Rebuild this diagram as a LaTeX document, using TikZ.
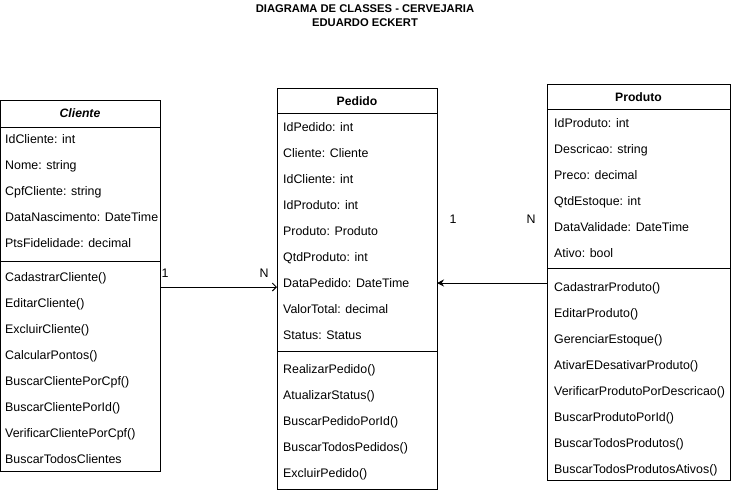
\documentclass[tikz,border=0pt]{standalone}
\usepackage{fontspec}
\setmainfont{Liberation Sans}
\usetikzlibrary{arrows.meta}
\begin{document}
\begin{tikzpicture}[x=1pt,y=-1pt,
  classbox/.style={draw, line width=1pt, inner sep=0pt, outer sep=0pt, fill=white},
  sepline/.style={line width=1pt},
  row/.style={anchor=base west, inner sep=0pt, font=\fontsize{12.4}{14}\selectfont},
  head/.style={anchor=base, inner sep=0pt, font=\bfseries\fontsize{12.2}{14}\selectfont},
  mult/.style={anchor=base, inner sep=0pt, font=\fontsize{12.4}{14}\selectfont},
  titletext/.style={anchor=base, inner sep=0pt, font=\bfseries\fontsize{11.2}{13}\selectfont},
  assoc/.style={line width=1pt}]
\useasboundingbox (0,0) rectangle (731,491);
\fill[white] (0,0) rectangle (731,491);

% title
\node[titletext] (title1) at (365,12) {DIAGRAMA DE CLASSES - CERVEJARIA};
\node[titletext] (title2) at (365,26) {EDUARDO ECKERT};

% boxes
\node[classbox, minimum width=159.4pt, minimum height=371pt] (cliente) at (80.3,285.5) {};
\node[classbox, minimum width=160pt, minimum height=401pt] (pedido) at (357,288.5) {};
\node[classbox, minimum width=183pt, minimum height=396pt] (produto) at (638.5,282) {};

% separators
\draw[sepline] (cliente.west |- 0,127) -- (cliente.east |- 0,127);
\draw[sepline] (cliente.west |- 0,261) -- (cliente.east |- 0,261);
\draw[sepline] (pedido.west |- 0,113) -- (pedido.east |- 0,113);
\draw[sepline] (pedido.west |- 0,351) -- (pedido.east |- 0,351);
\draw[sepline] (produto.west |- 0,109) -- (produto.east |- 0,109);
\draw[sepline] (produto.west |- 0,268) -- (produto.east |- 0,268);

% headers
\node[head, font=\bfseries\itshape\fontsize{12.2}{14}\selectfont] (clienteh) at (80,117.5) {Cliente};
\node[head] (pedidoh) at (357,105.3) {Pedido};
\node[head] (produtoh) at (638.5,101.3) {Produto};

% Cliente
\foreach \t [count=\i] in {IdCliente: int, Nome: string, CpfCliente: string, DataNascimento: DateTime, PtsFidelidade: decimal}
  \node[row] (ca\i) at (5,117.4+26*\i) {\t};
\foreach \t [count=\i] in {CadastrarCliente(), EditarCliente(), ExcluirCliente(), CalcularPontos(), BuscarClientePorCpf(), BuscarClientePorId(), VerificarClientePorCpf(), BuscarTodosClientes}
  \node[row] (cm\i) at (5,255.4+26*\i) {\t};

% Pedido
\foreach \t [count=\i] in {IdPedido: int, Cliente: Cliente, IdCliente: int, IdProduto: int, Produto: Produto, QtdProduto: int, DataPedido: DateTime, ValorTotal: decimal, Status: Status}
  \node[row] (pa\i) at (283,105.4+26*\i) {\t};
\foreach \t [count=\i] in {RealizarPedido(), AtualizarStatus(), BuscarPedidoPorId(), BuscarTodosPedidos(), ExcluirPedido()}
  \node[row] (pm\i) at (283,347.4+26*\i) {\t};

% Produto
\foreach \t [count=\i] in {IdProduto: int, Descricao: string, Preco: decimal, QtdEstoque: int, DataValidade: DateTime, Ativo: bool}
  \node[row] (ra\i) at (554,101.4+26*\i) {\t};
\foreach \t [count=\i] in {CadastrarProduto(), EditarProduto(), GerenciarEstoque(), AtivarEDesativarProduto(), VerificarProdutoPorDescricao(), BuscarProdutoPorId(), BuscarTodosProdutos(), BuscarTodosProdutosAtivos()}
  \node[row] (rm\i) at (554,265.4+26*\i) {\t};

% associations
\draw[assoc, -{Straight Barb[length=4pt,width=8pt]}] (cliente.east |- 0,287) -- (pedido.west |- 0,287);
\draw[assoc, -{Stealth[length=7pt,width=7pt]}] (produto.west |- 0,283) -- (pedido.east |- 0,283);

% multiplicities
\node[mult] (m1) at (165,277.4) {1};
\node[mult] (m2) at (264,277.4) {N};
\node[mult] (m3) at (453,223.4) {1};
\node[mult] (m4) at (531,223.4) {N};
\end{tikzpicture}
\end{document}
